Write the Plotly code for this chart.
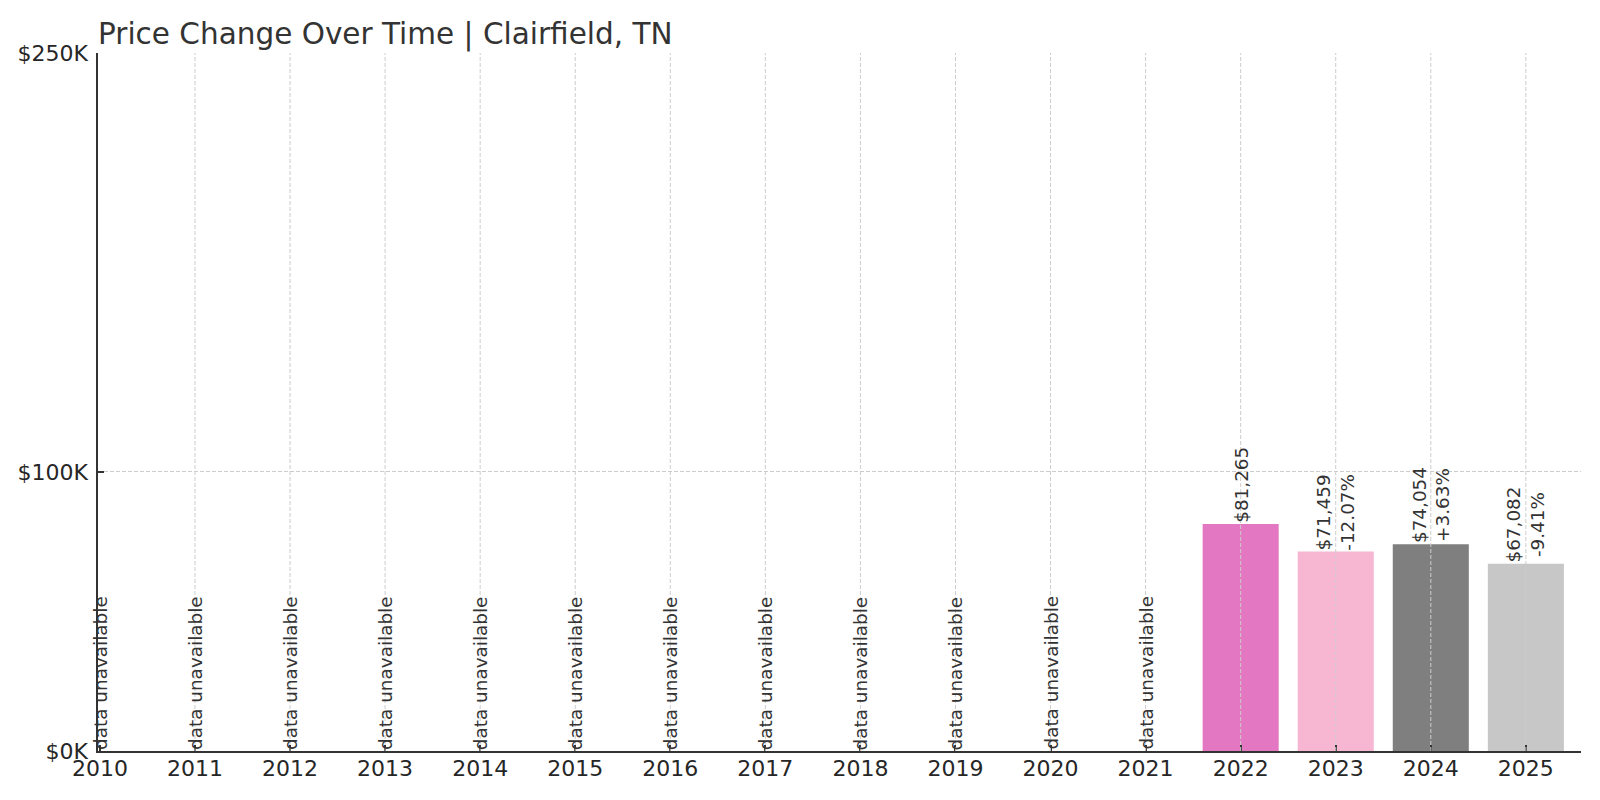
import plotly.graph_objects as go

# yearly values, None = no data
years = list(range(2010, 2026))
prices = [None] * 12 + [81265, 71459, 74054, 67082]
bar_colors = ["#E377C2", "#F7B6D2", "#7F7F7F", "#C7C7C7"]

y_ticks = [0, 100000, 250000]
y_tick_text = ["$0K", "$100K", "$250K"]

TXT = "#333333"
FONT = "DejaVu Sans"

have = [(y, p) for y, p in zip(years, prices) if p is not None]
missing = [y for y, p in zip(years, prices) if p is None]

fig = go.Figure()
fig.add_trace(go.Bar(
    x=[y for y, _ in have],
    y=[p for _, p in have],
    width=0.8,
    marker=dict(color=bar_colors, line=dict(width=0)),
    hoverinfo="x+y",
))

# value labels, with change vs previous year
prev = None
for yr, p in have:
    label = f"${p:,.0f}"
    if prev is not None:
        label += f"<br>{(p - prev) / prev * 100:+.2f}%"
    prev = p
    fig.add_annotation(x=yr, y=p, text=label, textangle=-90, showarrow=False,
                       xanchor="center", yanchor="bottom", yshift=-1,
                       font=dict(family=FONT, size=18.4, color=TXT))

for yr in missing:
    fig.add_annotation(x=yr, y=0, text="data unavailable", textangle=-90,
                       showarrow=False, xanchor="center", yanchor="bottom", yshift=-1,
                       font=dict(family=FONT, size=18.4, color=TXT))

# vertical grid drawn over the bars like the original
for yr in years[1:]:
    fig.add_shape(type="line", x0=yr, x1=yr, y0=0, y1=1, yref="paper",
                  layer="above", line=dict(color="#cccccc", width=1, dash="4px,2px"))

fig.update_layout(
    width=1600, height=800,
    paper_bgcolor="white", plot_bgcolor="white",
    margin=dict(l=98, r=19, t=53, b=49),
    showlegend=False,
    font=dict(family=FONT, color="#262626"),
    title=dict(text="Price Change Over Time | Clairfield, TN",
               x=98 / 1600, xanchor="left", xref="container",
               y=1 - 34 / 800, yanchor="middle", yref="container",
               font=dict(family=FONT, size=29.5, color=TXT)),
)
fig.update_xaxes(
    range=[2009.98, 2025.58], tickvals=years, ticktext=[str(y) for y in years],
    showgrid=False, zeroline=False,
    showline=True, linecolor=TXT, linewidth=1.5,
    ticks="inside", ticklen=6, tickwidth=1.5, tickcolor=TXT,
    ticklabelstandoff=-3, tickfont=dict(size=22), layer="above traces",
    automargin=False,
)
fig.update_yaxes(
    range=[0, 250000], tickvals=y_ticks, ticktext=y_tick_text,
    showgrid=True, gridcolor="#cccccc", gridwidth=1, griddash="4px,2px",
    zeroline=False,
    showline=True, linecolor=TXT, linewidth=1.5,
    ticks="inside", ticklen=6, tickwidth=1.5, tickcolor=TXT,
    ticklabelstandoff=4, tickfont=dict(size=22), layer="above traces",
    automargin=False,
)

# drop the default page margin so the figure sits at the window corner
fig.write_html("out.html", config={"displayModeBar": False},
               post_script="document.body.style.margin='0';")
